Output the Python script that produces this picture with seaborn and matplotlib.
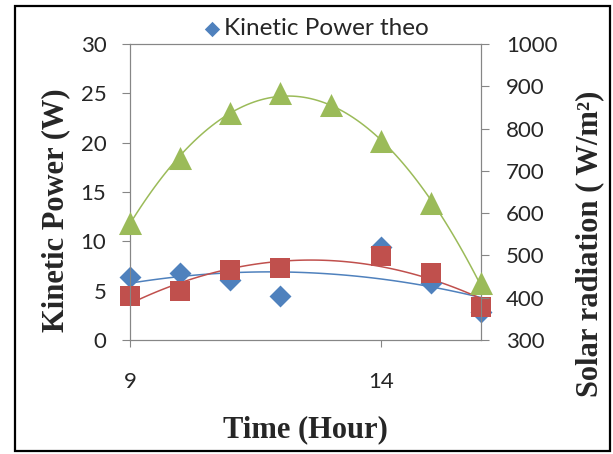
import matplotlib
matplotlib.use("Agg")
import matplotlib.pyplot as plt
from matplotlib.patches import Rectangle
import seaborn as sns
import pandas as pd

# Hourly measurements
hours_theo = [9, 10, 11, 12, 14, 15, 16]
power_theo = [6.41, 6.75, 6.10, 4.46, 9.39, 5.80, 2.87]

hours_exp = [9, 10, 11, 12, 14, 15, 16]
power_exp = [4.49, 4.96, 7.09, 7.26, 8.54, 6.82, 3.31]

hours_sun = [9, 10, 11, 12, 13, 14, 15, 16]
solar_rad = [576, 731, 838, 883, 856, 771, 623, 434]

x_ticks = [9, 14]
left_ticks = [0, 5, 10, 15, 20, 25, 30]
right_ticks = [300, 400, 500, 600, 700, 800, 900, 1000]

theo = pd.DataFrame({"hour": hours_theo, "power": power_theo})
exp = pd.DataFrame({"hour": hours_exp, "power": power_exp})
sun = pd.DataFrame({"hour": hours_sun, "rad": solar_rad})

BLUE, RED, GREEN = "#4F81BD", "#C0504D", "#9BBB59"
AXIS_GRAY = "#868686"
TICK_FONT = "Lato"
TITLE_FONT = "Liberation Serif"

sns.set_style("white")
plt.rcParams["font.family"] = [TICK_FONT, "DejaVu Sans"]

fig = plt.figure(figsize=(6.13, 4.54), dpi=100)
ax = fig.add_axes([130 / 613, 1 - 340 / 454, 351 / 613, 296 / 454])
ax2 = ax.twinx()

# polynomial trend lines
line_kw = {"lw": 1.1, "zorder": 2}
sns.regplot(data=theo, x="hour", y="power", order=2, ci=None, scatter=False,
            color=BLUE, line_kws=line_kw, ax=ax)
sns.regplot(data=exp, x="hour", y="power", order=2, ci=None, scatter=False,
            color=RED, line_kws=line_kw, ax=ax)
sns.regplot(data=sun, x="hour", y="rad", order=2, ci=None, scatter=False,
            color=GREEN, line_kws=line_kw, ax=ax2)

# markers
sns.scatterplot(data=theo, x="hour", y="power", marker="D", s=125, color=BLUE,
                linewidth=0, ax=ax, label="Kinetic Power theo", zorder=3)
sns.scatterplot(data=exp, x="hour", y="power", marker="s", s=228, color=RED,
                linewidth=0, ax=ax, legend=False, zorder=4)
sns.scatterplot(data=sun, x="hour", y="rad", marker="^", s=275, color=GREEN,
                linewidth=0, ax=ax2, legend=False, zorder=4)

# let the edge markers spill over the frame
for a in (ax, ax2):
    for coll in a.collections:
        coll.set_clip_on(False)

ax.set_xlim(9, 16)
ax.set_ylim(0, 30)
ax2.set_ylim(300, 1000)
ax.set_xticks(x_ticks)
ax.set_yticks(left_ticks)
ax2.set_yticks(right_ticks)

for a in (ax, ax2):
    for sp in a.spines.values():
        sp.set_color(AXIS_GRAY)
        sp.set_linewidth(0.8)
        sp.set_visible(True)

ax.tick_params(axis="y", left=True, right=False, direction="out", length=6,
               width=0.8, color=AXIS_GRAY, pad=11, labelsize=16, labelcolor="#262626")
ax.tick_params(axis="x", bottom=True, direction="out", length=5, width=0.8,
               color=AXIS_GRAY, pad=18, labelsize=16, labelcolor="#262626")
ax2.tick_params(axis="y", right=True, left=False, direction="out", length=6,
                width=0.8, color=AXIS_GRAY, pad=12, labelsize=16, labelcolor="#262626")

label_font = {"family": TITLE_FONT, "weight": "bold", "size": 22}
ax.set_xlabel("Time (Hour)", fontdict=label_font)
ax.xaxis.set_label_coords(0.5, -0.304)
ax.xaxis.label.set_va("center")
ax.set_ylabel("Kinetic Power (W)", fontdict=label_font)
ax.yaxis.set_label_coords(-0.212, 0.439)
ax.yaxis.label.set_va("center")
ax2.set_ylabel("Solar radiation ( W/m\u00b2)", fontdict=label_font, rotation=90)
ax2.yaxis.set_label_coords(1.311, 0.326)
ax2.yaxis.label.set_va("center")

leg = ax.legend(loc="center", bbox_to_anchor=(0.528, 1.0507), frameon=False,
                fontsize=17.5, markerscale=0.7, handletextpad=0.05,
                borderpad=0, handlelength=0.9)

fig.patches.append(Rectangle((15 / 613, 1 - 451 / 454), 595 / 613, 445 / 454,
                             transform=fig.transFigure, fill=False,
                             edgecolor="black", linewidth=1.6))

fig.savefig("out.png", dpi=100, facecolor="white")
